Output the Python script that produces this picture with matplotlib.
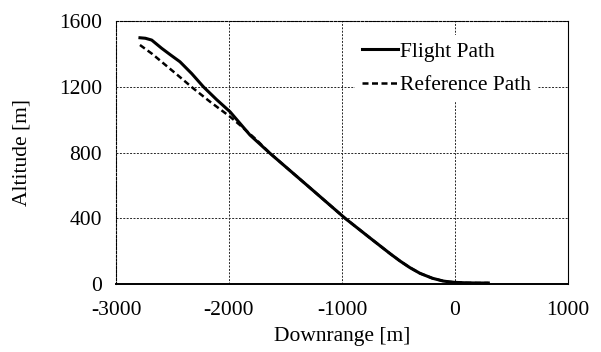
import numpy as np
import matplotlib
matplotlib.use("Agg")
import matplotlib.pyplot as plt

plt.rcParams["font.family"] = ["Liberation Serif", "DejaVu Serif"]
plt.rcParams["axes.unicode_minus"] = False

# flight path
flight_x = [-2788, -2740, -2684, -2596, -2520, -2434, -2330, -2227, -2110, -1991,
            -1814, -1637, -1300, -973, -752, -575, -487, -400, -310, -200,
            -104, -50, 0, 100, 200, 295]
flight_y = [1498, 1495, 1484, 1434, 1395, 1352, 1280, 1200, 1122, 1048,
            906, 795, 595, 400, 280, 185, 140, 100, 65, 35,
            18, 13, 10, 7, 6, 6]

# reference path
ref_x = [-2788, -2680, -2581, -2450, -2316, -2168, -1991, -1903, -1755, -1637,
         -1300, -973, -752, -575, -487, -400, -310, -200, -104, -50,
         0, 100, 200, 295]
ref_y = [1454, 1400, 1343, 1268, 1190, 1109, 1018, 967, 876, 795,
         595, 400, 280, 185, 140, 100, 65, 35, 18, 13,
         10, 7, 6, 6]

x_ticks = [-3000, -2000, -1000, 0, 1000]
y_ticks = [0, 400, 800, 1200, 1600]

fig = plt.figure(figsize=(6.01, 3.52), dpi=100)
ax = fig.add_axes([116 / 601, 1 - 284 / 352, (568 - 116) / 601, (284 - 21) / 352])

ax.plot(flight_x, flight_y, c="k", lw=2.2, label="Flight Path", zorder=3)
ax.plot(ref_x, ref_y, c="k", lw=1.8, ls=(0, (2.4, 1.4)), label="Reference Path", zorder=3)

ax.set_xlim(-3000, 1000)
ax.set_ylim(0, 1600)
ax.set_xticks(x_ticks)
ax.set_yticks(y_ticks)
ax.tick_params(length=0, labelsize=15.5)
ax.tick_params(axis="x", pad=12)
ax.tick_params(axis="y", pad=10)
ax.grid(True, color="0.15", ls=(0, (2, 1.5)), lw=0.7)

ax.spines["right"].set_linewidth(0.8)
ax.spines["bottom"].set_linewidth(1.4)
for side in ["top", "left"]:
    ax.spines[side].set_linestyle((0, (2, 1.5)))
    ax.spines[side].set_linewidth(0.8)

ax.set_xlabel("Downrange [m]", fontsize=15.5)
ax.set_ylabel("Altitude [m]", fontsize=15.5)
ax.xaxis.set_label_coords(0.5, -0.163)
ax.yaxis.set_label_coords(-0.188, 0.5)

leg = ax.legend(loc="upper left", bbox_to_anchor=(0.529, 0.945), fontsize=15.5, frameon=True,
                handlelength=1.67, handletextpad=0.1, labelspacing=0.62, borderpad=0.3,
                borderaxespad=0, fancybox=False)
leg.get_frame().set_edgecolor("none")
leg.get_frame().set_facecolor("white")
leg.get_frame().set_alpha(1)

fig.savefig("out.png", dpi=100)
